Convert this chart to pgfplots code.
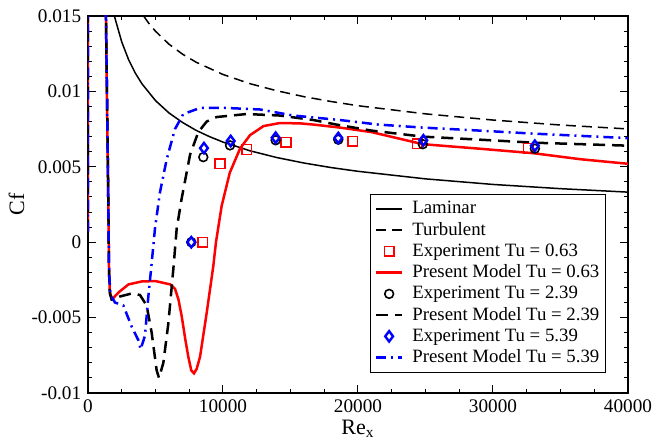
\documentclass[border=0pt]{standalone}
\usepackage{fontspec}
\setmainfont{Liberation Serif}
\usepackage{pgfplots}
\pgfplotsset{compat=1.18}
\definecolor{mred}{RGB}{255,0,0}
\definecolor{mblue}{RGB}{0,0,255}
\begin{document}
\fontsize{9.6}{11}\selectfont
\begin{tikzpicture}
\path[use as bounding box] (-44pt,-25.5pt) rectangle (288pt,196.5pt);
\begin{axis}[
  at={(0pt,0pt)}, anchor=south west,
  scale only axis, width=270pt, height=188.5pt,
  xmin=0, xmax=40000, ymin=-0.01, ymax=0.015,
  xtick={0,10000,20000,30000,40000},
  ytick={-0.01,-0.005,0,0.005,0.01,0.015},
  minor x tick num=3, minor y tick num=4,
  major tick length=4pt, minor tick length=2pt,
  tick style={black, line width=0.5pt},
  scaled ticks=false,
  /pgf/number format/assume math mode=true,
  tick label style={font=\fontsize{9.6}{11}\selectfont},
  xticklabel style={/pgf/number format/1000 sep={}},
  yticklabel style={/pgf/number format/fixed, /pgf/number format/precision=3},
  axis line style={line width=0.6pt},
  xlabel={Re\textsubscript{x}}, ylabel={Cf},
  label style={font=\fontsize{11}{13}\selectfont},
  xlabel style={yshift=3pt},
  ylabel style={yshift=-3pt},
  legend style={at={(rel axis cs:0.959,0.053)}, anchor=south east,
    draw=black, line width=0.5pt, font=\fontsize{9.4}{11}\selectfont,
    inner xsep=2pt, inner ysep=1.5pt, row sep=-1.2pt, column sep=3.5pt,
    nodes={inner xsep=1pt}},
  legend cell align=left,
  legend image code/.code={\draw[mark repeat=2,mark phase=2,#1]
    plot coordinates {(0pt,0pt) (6.5pt,0pt) (13pt,0pt)};},
]
% Blasius laminar skin friction
\addplot[black, line width=0.75pt] coordinates {
(1780,0.01574) (2000,0.01485) (2500,0.01328) (3000,0.01212) (3500,0.01122)
(4000,0.01050) (5000,0.00939) (6000,0.00857) (7000,0.00794) (8000,0.00742)
(9000,0.00700) (10000,0.00664) (12000,0.00606) (14000,0.00561) (16000,0.00525)
(18000,0.00495) (20000,0.00470) (25000,0.00420) (30000,0.00383)
(35000,0.00355) (40000,0.00332)};
\addlegendentry{Laminar}
% fully turbulent correlation
\addplot[black, line width=0.75pt, dash pattern=on 5pt off 3pt] coordinates {
(3500,0.01591) (4000,0.01515) (4500,0.01452) (5000,0.01399) (6000,0.01313)
(7000,0.01247) (8000,0.01194) (10000,0.01112) (12000,0.01051) (14000,0.01004)
(16000,0.00965) (18000,0.00933) (20000,0.00905) (25000,0.00851)
(30000,0.00810) (35000,0.00777) (40000,0.00751)};
\addlegendentry{Turbulent}
% Tu = 0.63
\addplot[only marks, mark=square, mark size=2.4pt, draw=mred, line width=0.75pt] coordinates {
(8500,0.0) (9780,0.0052) (11750,0.00615) (14670,0.00664) (19600,0.00669)
(24400,0.00653) (32600,0.00624)};
\addlegendentry{Experiment Tu = 0.63}
\addplot[mred, line width=1.25pt] coordinates {
(0,0.0007) (0,0.06) (1200,0.06) (1330,0.015) (1500,0.003) (1560,-0.002)
(1620,-0.0033) (1750,-0.0037) (1876,-0.0037) (2300,-0.0033) (3000,-0.0028)
(4000,-0.0026) (5000,-0.00258) (5600,-0.0027) (6100,-0.0028) (6450,-0.0031)
(6700,-0.0038) (6940,-0.0049) (7200,-0.0064) (7430,-0.0076) (7650,-0.0085)
(7850,-0.0087) (8050,-0.0084) (8300,-0.0076) (8790,-0.0047) (9280,-0.0016)
(9480,0.0) (9900,0.0024) (10500,0.0046) (11260,0.0062) (12000,0.0071)
(13000,0.0077) (14200,0.0079) (15700,0.00788) (16700,0.0078) (18670,0.0076)
(21000,0.0073) (24800,0.0065) (29000,0.0062) (33000,0.0059) (36500,0.0055)
(40000,0.0052)};
\addlegendentry{Present Model Tu = 0.63}
% Tu = 2.39
\addplot[only marks, mark=o, mark size=2.2pt, draw=black, line width=0.8pt] coordinates {
(7650,0.0) (8540,0.00564) (10520,0.00642) (13900,0.00676) (18540,0.0068)
(24800,0.0065) (33100,0.0062)};
\addlegendentry{Experiment Tu = 2.39}
\addplot[black, line width=1.25pt, dash pattern=on 6pt off 3.5pt] coordinates {
(0,0.0007) (0,0.06) (1200,0.06) (1330,0.015) (1500,0.003) (1560,-0.002)
(1620,-0.0034) (1750,-0.0038) (1876,-0.0038) (2370,-0.0036) (3235,-0.0034)
(3850,-0.0035) (4345,-0.0042) (4716,-0.006) (5086,-0.0085) (5260,-0.009)
(5580,-0.008) (5950,-0.0054) (6320,-0.0018) (6570,0.0009) (6940,0.0029)
(7560,0.0058) (8170,0.0073) (8790,0.008) (9530,0.0083) (11750,0.0085)
(14200,0.0084) (16700,0.0081) (18400,0.0078) (21000,0.0074) (24800,0.0070)
(29000,0.0068) (33000,0.0066) (40000,0.0064)};
\addlegendentry{Present Model Tu = 2.39}
% Tu = 5.39
\addplot[only marks, mark=diamond, mark size=2.6pt, draw=mblue, line width=1.2pt] coordinates {
(7650,0.0) (8590,0.00624) (10570,0.00671) (13900,0.00693) (18540,0.00691)
(24840,0.00676) (33100,0.0064)};
\addlegendentry{Experiment Tu = 5.39}
\addplot[mblue, line width=1.25pt, dash pattern=on 5pt off 2.5pt on 1pt off 2.5pt] coordinates {
(0,0.0007) (0,0.06) (1200,0.06) (1330,0.015) (1500,0.003) (1560,-0.002)
(1650,-0.0033) (1800,-0.0037) (2000,-0.004) (2620,-0.0042) (3235,-0.0056)
(3730,-0.0065) (3900,-0.0071) (4220,-0.0062) (4470,-0.0036) (4716,-0.0014)
(4960,0.0009) (5330,0.0033) (5830,0.0055) (6440,0.0075) (7060,0.0085)
(8300,0.0089) (10270,0.0089) (12740,0.0088) (15200,0.0084) (18670,0.0081)
(21500,0.0078) (24800,0.0076) (29000,0.0074) (33000,0.0072) (40000,0.0069)};
\addlegendentry{Present Model Tu = 5.39}
\end{axis}
\end{tikzpicture}
\end{document}
